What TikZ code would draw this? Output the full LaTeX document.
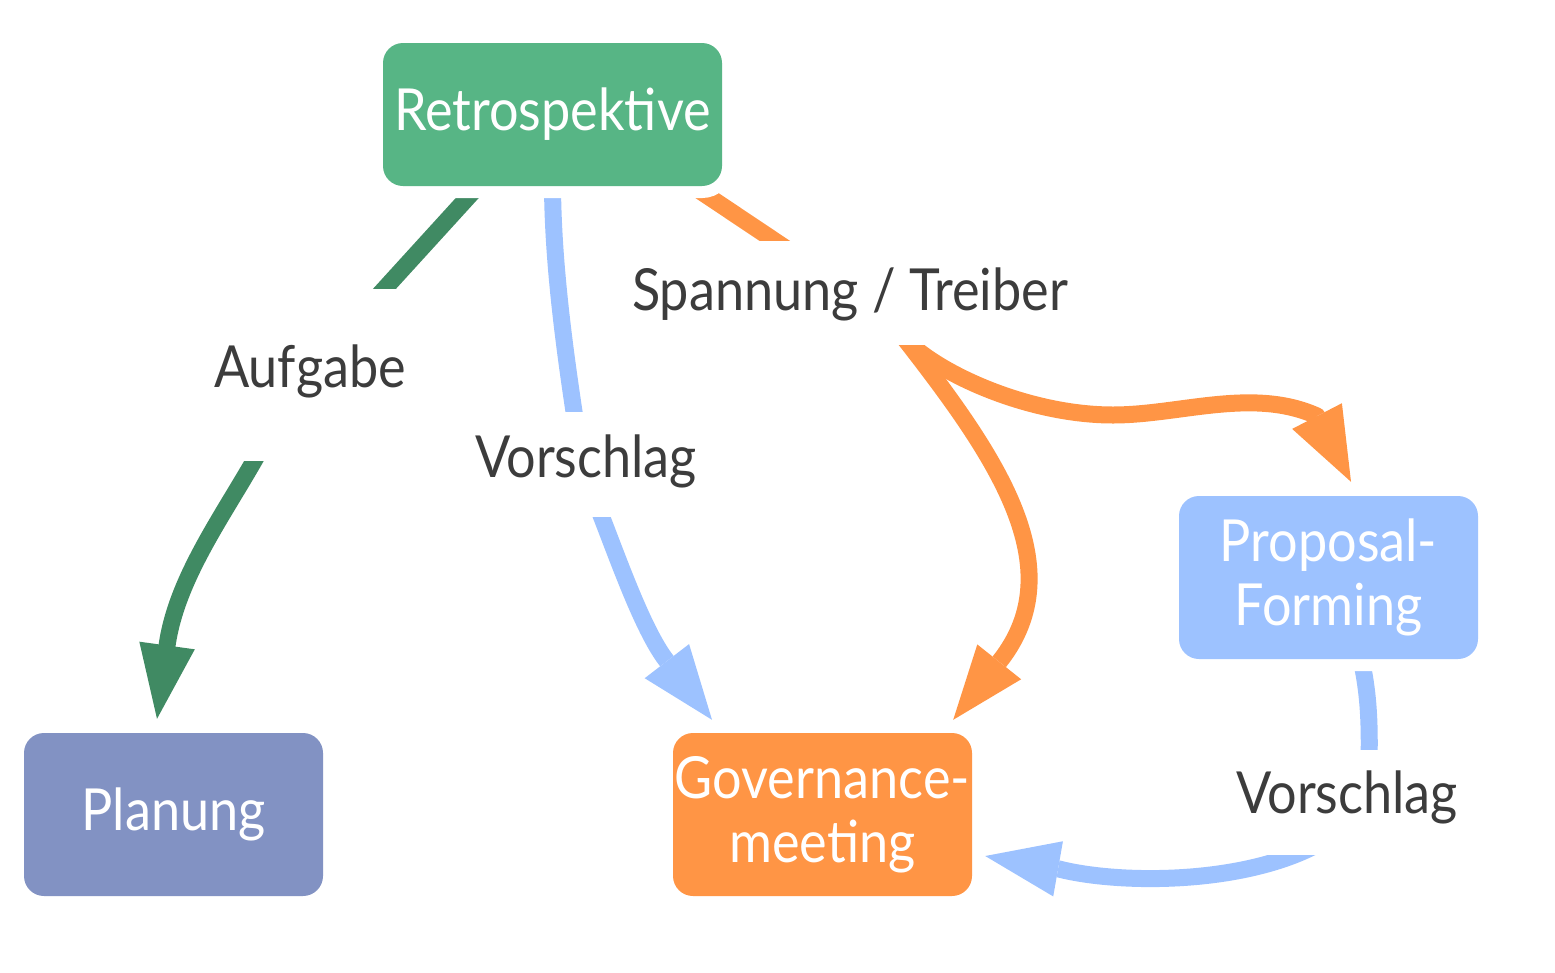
\documentclass[tikz,border=0pt]{standalone}
\usepackage{fontspec}
\setmainfont[FakeStretch=0.9]{Lato}
\usetikzlibrary{arrows.meta,backgrounds}
\definecolor{retroC}{HTML}{57B585}
\definecolor{planC}{HTML}{8292C3}
\definecolor{orangeC}{HTML}{FF9545}
\definecolor{blueC}{HTML}{9DC2FF}
\definecolor{greenE}{HTML}{408A63}
\definecolor{txtC}{HTML}{3C3C3C}
\begin{document}
\begin{tikzpicture}[x=1pt,y=-1pt,
  box/.style={rounded corners=20pt, inner sep=0pt, text=white, align=center,
    font=\fontsize{58}{64}\selectfont,
    preaction={draw=white, line width=24pt}},
  lab/.style={fill=white, inner sep=0pt, text=txtC,
    font=\fontsize{58}{64}\selectfont, text depth=10pt},
  edge/.style={line width=17pt, line join=round},
  arr/.style={-{Triangle[length=74pt,width=56pt,line width=0pt]}}]
\useasboundingbox (0,0) rectangle (1555,972);

% boxes
\node[box, fill=retroC, minimum width=339pt, minimum height=143pt] (retro) at (552.5,114.5) {Retrospektive};
\node[box, fill=planC, minimum width=299pt, minimum height=163pt] (plan) at (173.5,814.5) {Planung};
\node[box, fill=orangeC, minimum width=299pt, minimum height=163pt] (gov) at (822.5,814.5) {Governance-\\meeting};
\node[box, fill=blueC, minimum width=299pt, minimum height=163pt] (prop) at (1328.5,577.5) {Proposal-\\Forming};

% labels
\node[lab, text height=34pt, minimum width=220pt, minimum height=172pt] (aufg) at (310,375) {Aufgabe};
\node[lab, text height=35pt, minimum width=230pt, minimum height=105pt] (vor1) at (586,464.5) {Vorschlag};
\node[lab, text height=44pt, minimum width=450pt, minimum height=104pt] (span) at (850,293) {Spannung / Treiber};
\node[lab, text height=31pt, minimum width=230pt, minimum height=105pt] (vor2) at (1347,802.5) {Vorschlag};

\begin{scope}[on background layer]
% green: Retrospektive -> Aufgabe -> Planung
\draw[edge, greenE] ([shift={(-74.5,0)}]retro.south) -- ([shift={(64.5,11)}]aufg.north);
\draw[edge, greenE, arr] ([shift={(-50,-11)}]aufg.south)
  .. controls (226,512) and (176.5,577) .. (167,646) -- ([shift={(-16.5,-14)}]plan.north);
% blue: Retrospektive -> Vorschlag -> Governance
\draw[edge, blueC] (retro.south) .. controls (553,260) and (563,340) .. ([shift={(-10,13)}]vor1.north);
\draw[edge, blueC, arr] ([shift={(11,-12)}]vor1.south)
  .. controls (615.5,551.5) and (641.7,628.2) .. (666,660) -- ([shift={(-110.5,-13)}]gov.north);
% orange: Retrospektive -> Spannung -> Governance / Proposal
\draw[edge, orangeC] ([shift={(140.5,0)}]retro.south) -- ([shift={(-44,21)}]span.north);
\draw[edge, orangeC, arr] ([shift={(55,-6)}]span.south)
  .. controls (995,455) and (1074,567.5) .. (999.5,661.5) -- ([shift={(-19,-13)}]gov.north east);
\draw[edge, orangeC, arr] ([shift={(55,-6)}]span.south)
  .. controls (940,375) and (1030,415) .. (1113,415)
  .. controls (1180,415) and (1253,387) .. (1317,416) -- ([shift={(22.5,-14)}]prop.north);
% blue: Proposal -> Vorschlag -> Governance
\draw[edge, blueC] ([shift={(32.5,0)}]prop.south) .. controls (1368,690) and (1370,720) .. ([shift={(22,12)}]vor2.north);
\draw[edge, blueC, arr] ([shift={(-31,-10)}]vor2.south)
  .. controls (1240,885) and (1118,884) .. (1059,869) -- ([shift={(13,41.5)}]gov.east);
\end{scope}
\end{tikzpicture}
\end{document}
